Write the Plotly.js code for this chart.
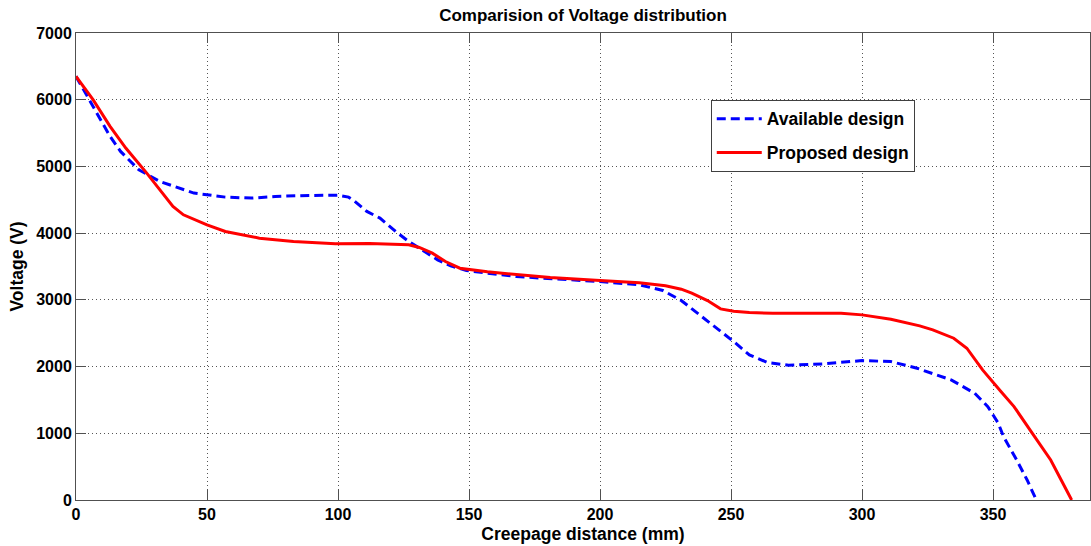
<!DOCTYPE html>
<html>
<head>
<meta charset="utf-8">
<script src="https://cdn.plot.ly/plotly-3.0.1.min.js"></script>
<style>html,body{margin:0;padding:0;background:#fff;}#chart{width:1091px;height:546px;}</style>
</head>
<body>
<div id="chart"></div>
<script>
var availableX = [0, 5, 10, 13, 17, 24, 32, 40, 45, 50, 57, 67, 76, 89, 100, 104, 106, 111, 116, 122, 127, 133, 138, 143, 149, 157, 168, 180, 200, 215, 224, 231, 238, 246, 251, 257, 264, 272, 285, 300, 311, 321, 334, 343, 348, 352, 354, 359, 363, 366.5];
var availableY = [6350, 6000, 5650, 5450, 5225, 4950, 4775, 4660, 4600, 4575, 4540, 4525, 4550, 4565, 4570, 4540, 4490, 4325, 4225, 4025, 3875, 3725, 3600, 3510, 3440, 3400, 3350, 3320, 3275, 3225, 3140, 2990, 2775, 2525, 2375, 2175, 2060, 2020, 2040, 2090, 2075, 1975, 1800, 1600, 1400, 1150, 950, 600, 300, 0];
var proposedX = [0, 6.5, 13, 19, 27, 32, 37, 41, 50, 57, 70, 83, 99, 112, 127, 131, 136, 141, 146.5, 157, 168, 181, 200, 215, 225, 231, 235, 241, 246, 251, 257, 266, 292, 300, 311, 322, 327, 335, 340, 346, 353, 358, 365, 372, 376, 380];
var proposedY = [6350, 6000, 5600, 5275, 4900, 4650, 4400, 4275, 4125, 4025, 3925, 3875, 3840, 3845, 3825, 3785, 3700, 3575, 3475, 3420, 3385, 3335, 3290, 3255, 3210, 3160, 3100, 2990, 2865, 2830, 2810, 2800, 2800, 2775, 2710, 2610, 2550, 2425, 2275, 1950, 1625, 1400, 1000, 600, 300, 0];
var xTicks = [0, 50, 100, 150, 200, 250, 300, 350];
var yTicks = [0, 1000, 2000, 3000, 4000, 5000, 6000, 7000];

var font = 'Liberation Sans, Arial, sans-serif';
var traces = [
  {x: availableX, y: availableY, mode: 'lines', name: '<b>Available design</b>', legendgroup: 'a',
   line: {color: '#0000ff', width: 3, dash: '9px,5px'}},
  {x: proposedX, y: proposedY, mode: 'lines', name: '<b>Proposed design</b>', legendgroup: 'b',
   line: {color: '#ff0000', width: 3}}
];
var axisCommon = {
  showline: true, linecolor: '#505050', linewidth: 1, mirror: 'ticks',
  ticks: 'inside', ticklen: 10, tickcolor: '#505050', tickwidth: 1,
  showgrid: true, gridcolor: '#555', griddash: '1px,3px', gridwidth: 1,
  zeroline: false, tickfont: {family: font, size: 16, color: '#000', weight: 'bold'}
};
var layout = {
  width: 1091, height: 546,
  paper_bgcolor: '#fff', plot_bgcolor: '#fff',
  margin: {l: 76, r: 1, t: 33, b: 46},
  title: {text: '<b>Comparision of Voltage distribution</b>', x: 0.5, xref: 'paper', y: 0.972, yanchor: 'middle',
          font: {family: font, size: 17, color: '#000'}},
  xaxis: Object.assign({}, axisCommon, {range: [0, 387], tickvals: xTicks,
    title: {text: '<b>Creepage distance (mm)</b>', standoff: 5, font: {family: font, size: 17.5, color: '#000'}}}),
  yaxis: Object.assign({}, axisCommon, {range: [0, 7000], tickvals: yTicks,
    title: {text: '<b>Voltage (V)</b>', standoff: 8, font: {family: font, size: 17.5, color: '#000'}}}),
  showlegend: true,
  legend: {x: 0.626, y: 0.857, xanchor: 'left', yanchor: 'top', bgcolor: '#fff',
           bordercolor: '#404040', borderwidth: 1, traceorder: 'grouped', tracegroupgap: 8,
           itemwidth: 45,
           font: {family: font, size: 17.5, color: '#000'}}
};
Plotly.newPlot('chart', traces, layout, {staticPlot: true, displayModeBar: false});
</script>
</body>
</html>
